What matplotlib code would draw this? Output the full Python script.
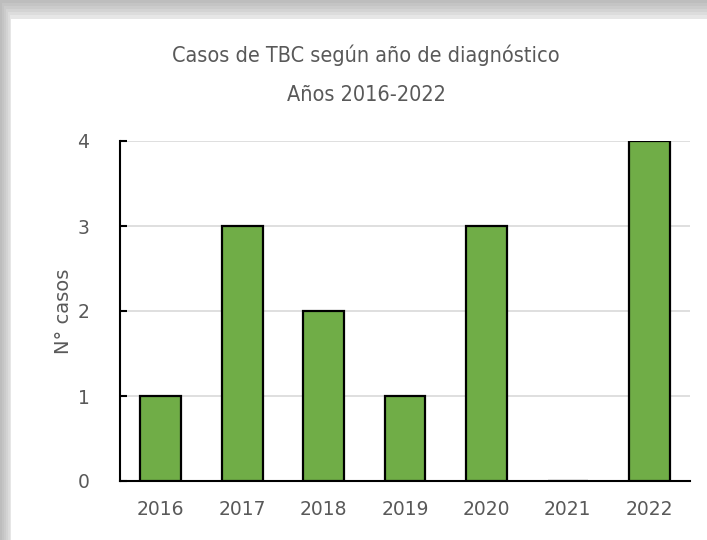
import matplotlib
matplotlib.use("Agg")
import matplotlib.pyplot as plt
from matplotlib.patches import Rectangle

years = ["2016", "2017", "2018", "2019", "2020", "2021", "2022"]
cases = [1, 3, 2, 1, 3, 0, 4]
yticks = [0, 1, 2, 3, 4]

W, H = 7.07, 5.40
fig = plt.figure(figsize=(W, H), dpi=100)
fig.patch.set_facecolor("#ffffff")

# shadow frame
shades = ["#bdbdbd", "#c4c4c4", "#cbcbcb", "#d3d3d3", "#dcdcdc", "#e6e6e6"]
for i, c in enumerate(shades):
    x0 = (i * 2) / 707
    y1 = 1 - (i * 3) / 540
    fig.patches.append(Rectangle((x0, 0), 1 - x0, y1, transform=fig.transFigure,
                                 facecolor=c, edgecolor="none", zorder=-10 + i * 0.01))
fig.patches.append(Rectangle((11 / 707, 0), 1, 1 - 19 / 540, transform=fig.transFigure,
                             facecolor="white", edgecolor="none", zorder=-9))

ax = fig.add_axes([120 / 707, 1 - 481 / 540, 570 / 707, 340 / 540])
ax.set_facecolor("none")
x = range(len(years))
ax.bar(x, cases, width=0.5, color="#70ad47", edgecolor="black", linewidth=1.6, zorder=3)
ax.set_xlim(-0.5, len(years) - 0.5)
ax.set_ylim(0, 4)
ax.set_yticks(yticks)
ax.set_xticks(list(x))
ax.set_xticklabels(years)
ax.yaxis.grid(True, color="#d9d9d9", linewidth=1.2, zorder=0)
ax.set_axisbelow(True)
for s in ["top", "right"]:
    ax.spines[s].set_visible(False)
ax.spines["left"].set_linewidth(1.5)
ax.spines["bottom"].set_linewidth(1.5)
ax.tick_params(axis="y", direction="in", length=5, width=1.5, labelsize=13.5,
               labelcolor="#595959", pad=22)
ax.tick_params(axis="x", length=0, labelsize=13.5, labelcolor="#595959", pad=14)
ax.set_ylabel("N° casos", fontsize=14, color="#595959", labelpad=3)

fig.text(0.518, 1 - 55 / 540, "Casos de TBC según año de diagnóstico", ha="center", va="center",
         fontsize=15.5, color="#595959", fontstretch="condensed")
fig.text(0.518, 1 - 95 / 540, "Años 2016-2022", ha="center", va="center",
         fontsize=15.5, color="#595959", fontstretch="condensed")

fig.savefig("out.png", dpi=100)
